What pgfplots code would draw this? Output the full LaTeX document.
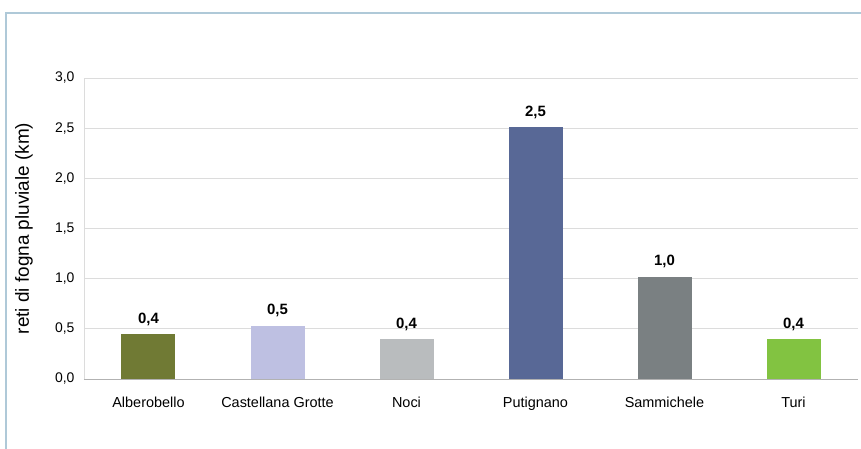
\documentclass[border=0pt]{standalone}
\usepackage{pgfplots}
\pgfplotsset{compat=1.18}
\usepackage{fontspec}
\setmainfont{Liberation Sans}
\definecolor{cAlb}{RGB}{112,122,52}
\definecolor{cCas}{RGB}{190,192,226}
\definecolor{cNoc}{RGB}{185,188,190}
\definecolor{cPut}{RGB}{88,104,150}
\definecolor{cSam}{RGB}{122,128,130}
\definecolor{cTur}{RGB}{130,195,65}
\definecolor{frameblue}{RGB}{175,201,216}
\definecolor{gridgray}{RGB}{220,220,220}
\begin{document}
\begin{tikzpicture}
\path[use as bounding box] (-84bp,-70bp) rectangle (777bp,379bp);
\draw[frameblue, line width=2.2bp] (-78bp,-71bp) -- (-78bp,366bp) -- (778bp,366bp);
\begin{axis}[
  at={(0,0)}, anchor=south west,
  scale only axis, width=774bp, height=301bp,
  xmin=-0.5, xmax=5.5, ymin=0, ymax=3,
  ytick={0,0.5,1,1.5,2,2.5,3},
  yticklabel style={/pgf/number format/fixed, /pgf/number format/fixed zerofill, /pgf/number format/precision=1, /pgf/number format/use comma, /pgf/number format/assume math mode=true, font=\fontsize{14}{16}\selectfont, xshift=-6bp},
  xtick={0,1,2,3,4,5},
  xticklabels={Alberobello, Castellana Grotte, Noci, Putignano, Sammichele, Turi},
  xticklabel style={font=\fontsize{14.5}{16}\selectfont, yshift=-10bp},
  extra x ticks={0.5,1.5,2.5,3.5,4.5},
  extra x tick labels={},
  extra x tick style={major tick length=5bp, tick style={draw=gray!60}, tick align=outside, grid=none},
  major x tick style={draw=none},
  ymajorgrids, grid style={gridgray, line width=0.8bp},
  y tick style={draw=none},
  axis x line*=bottom,
  x axis line style={draw=gray!60, line width=0.8bp, -},
  axis y line*=left,
  y axis line style={draw=gridgray, line width=0.8bp, -},
  ylabel={reti di fogna pluviale (km)},
  ylabel style={font=\fontsize{19}{21}\selectfont, at={(axis description cs:-0.0775,0.5)}, anchor=center, rotate=0},
  ybar, bar width=54bp, bar shift=0pt,
  nodes near coords,
  point meta=explicit symbolic,
  every node near coord/.append style={font=\bfseries\fontsize{15}{17}\selectfont, yshift=5bp, text=black},
  clip=false,
]
\addplot[fill=cAlb, draw=none] coordinates {(0,0.45) [0,4]};
\addplot[fill=cCas, draw=none] coordinates {(1,0.53) [0,5]};
\addplot[fill=cNoc, draw=none] coordinates {(2,0.40) [0,4]};
\addplot[fill=cPut, draw=none] coordinates {(3,2.51) [2,5]};
\addplot[fill=cSam, draw=none] coordinates {(4,1.02) [1,0]};
\addplot[fill=cTur, draw=none] coordinates {(5,0.40) [0,4]};
\end{axis}
\end{tikzpicture}
\end{document}
